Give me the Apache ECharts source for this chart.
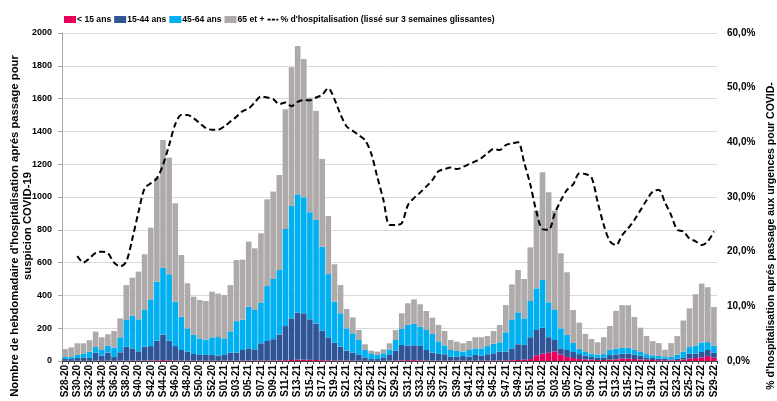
<!DOCTYPE html>
<html>
<head>
<meta charset="utf-8">
<script src="https://cdn.jsdelivr.net/npm/echarts@6/dist/echarts.min.js"></script>
<style>
  html, body { margin: 0; padding: 0; background: #fff; }
  #chart { width: 777px; height: 401px; }
</style>
</head>
<body>
<div id="chart"></div>
<script>
// semaines S28-20 .. S29-22
const weeks = []
for (let w = 28; w <= 53; w++) weeks.push('S' + String(w).padStart(2, '0') + '-20')
for (let w = 1; w <= 52; w++) weeks.push('S' + String(w).padStart(2, '0') + '-21')
for (let w = 1; w <= 29; w++) weeks.push('S' + String(w).padStart(2, '0') + '-22')

const moins15 = [1, 1, 1, 1, 1, 2, 1, 2, 1, 2, 2, 2, 2, 3, 3, 4, 5, 4, 3, 3, 2, 2, 2, 2, 2, 2,
  2, 2, 2, 2, 3, 3, 3, 3, 3, 4, 5, 6, 8, 8, 7, 6, 5, 4, 4, 3, 3, 2, 2, 1, 1, 1, 1, 2, 3, 4,
  5, 5, 4, 3, 3, 2, 2, 2, 2, 2, 2, 2, 2, 3, 3, 3, 4, 5, 6, 8, 12, 35,
  45, 50, 58, 40, 25, 18, 12, 10, 8, 6, 6, 8, 10, 15, 15, 12, 10, 8, 6, 5, 5, 4, 5, 8, 15, 18, 22, 30, 20, 25]
const age15_44 = [11, 11, 17, 21, 17, 49, 32, 49, 23, 51, 85, 75, 57, 84, 88, 120, 156, 120, 88, 64, 55, 41, 35, 35, 35, 31,
  35, 49, 49, 65, 74, 68, 105, 119, 130, 157, 208, 254, 287, 283, 247, 222, 180, 140, 108, 84, 60, 49, 35, 21, 11, 11, 21, 35, 60, 94,
  89, 91, 88, 64, 48, 41, 39, 24, 24, 28, 24, 35, 31, 38, 44, 54, 53, 72, 96, 90, 133, 154,
  158, 95, 70, 37, 42, 37, 30, 22, 17, 14, 16, 28, 30, 30, 30, 28, 22, 14, 12, 10, 9, 6, 10, 14, 30, 27, 33, 37, 30, 23]
const age45_64 = [12, 12, 19, 21, 39, 34, 34, 43, 57, 91, 163, 199, 195, 224, 285, 360, 408, 405, 271, 203, 142, 116, 101, 93, 107, 113,
  97, 130, 192, 185, 254, 240, 249, 335, 367, 394, 592, 685, 721, 707, 653, 632, 512, 386, 250, 204, 136, 118, 91, 45, 35, 25, 25, 34, 65, 97,
  126, 130, 117, 122, 114, 77, 54, 41, 35, 27, 41, 40, 44, 50, 58, 57, 118, 173, 195, 162, 221, 254,
  291, 213, 183, 122, 92, 55, 33, 23, 20, 18, 20, 32, 35, 35, 35, 30, 23, 20, 17, 16, 10, 15, 23, 35, 40, 50, 58, 48, 44]
const age65plus = [49, 59, 71, 65, 70, 94, 78, 69, 102, 116, 213, 232, 291, 340, 437, 634, 779, 711, 600, 376, 275, 233, 234, 236, 279, 265,
  268, 282, 373, 366, 397, 376, 422, 529, 533, 579, 730, 846, 905, 844, 699, 665, 535, 354, 228, 172, 118, 97, 61, 35, 16, 20, 24, 37, 61, 96,
  132, 150, 137, 116, 99, 100, 88, 61, 57, 51, 55, 68, 68, 61, 78, 106, 166, 217, 258, 240, 327, 474,
  657, 671, 606, 458, 382, 201, 159, 110, 89, 76, 103, 146, 231, 261, 260, 198, 148, 110, 86, 78, 45, 84, 114, 190, 236, 312, 359, 335, 235]
// % d'hospitalisation lissé sur 3 semaines
const tauxHospit = [null, null, 19.2, 18.0, 18.8, 19.8, 20.0, 19.7, 18.0, 17.3, 18.2, 22.4, 27.3, 31.6, 32.5, 33.4, 35.9, 39.5, 43.3, 45.0, 45.0, 44.4, 43.5, 42.6, 42.3, 42.3,
  42.9, 43.8, 44.7, 45.7, 46.2, 47.3, 48.4, 48.2, 47.9, 47.0, 47.3, 46.6, 47.4, 47.7, 47.7, 48.2, 48.7, 49.9, 47.9, 45.1, 42.9, 42.1, 41.3, 40.4, 38.0, 33.7, 29.5, 24.9, 24.9, 25.2,
  28.5, 29.8, 30.8, 31.9, 33.1, 34.7, 35.1, 35.4, 35.1, 35.5, 36.0, 36.5, 37.1, 38.0, 38.8, 38.6, 39.5, 39.8, 40.0, 36.3, 32.3, 27.3,
  24.1, 24.0, 27.0, 29.4, 31.3, 32.3, 34.3, 34.2, 33.6, 29.1, 24.9, 21.9, 21.2, 23.0, 24.3, 25.8, 27.6, 29.4, 31.0, 31.3, 29.0, 26.7, 24.0, 23.7, 22.4, 21.9, 21.2, 21.9, 23.7]

const police = '"Liberation Sans", Arial, sans-serif'
const tiret = 'path://M0,2.8h3.2v1.6h-3.2z M4.4,2.8h3.2v1.6h-3.2z M8.8,2.8h2v1.6h-2z M0,0h0.01v0.01h-0.01z M12,7h0.01v0.01h-0.01z'

let chart = echarts.init(document.getElementById('chart'))
chart.setOption({
  animation: false,
  grid: { left: 62, right: 60, top: 33, bottom: 40 },
  legend: {
    left: 64,
    top: 15,
    padding: 0,
    itemWidth: 12,
    itemHeight: 7,
    itemGap: 3,
    textStyle: { fontFamily: police, fontWeight: 'bold', fontSize: 8.6, color: '#000', padding: [0, 0, 0, -4] },
    data: [
      { name: '< 15 ans', icon: 'rect' },
      { name: '15-44 ans', icon: 'rect' },
      { name: '45-64 ans', icon: 'rect' },
      { name: '65 et +', icon: 'rect' },
      { name: "% d'hospitalisation (lissé sur 3 semaines glissantes)", icon: tiret, itemStyle: { color: '#000' } }
    ]
  },
  xAxis: {
    type: 'category',
    data: weeks,
    axisLine: { lineStyle: { color: '#404040', width: 1 } },
    axisTick: { show: true, interval: 0, length: 3, lineStyle: { color: '#404040' } },
    axisLabel: {
      interval: 1,
      rotate: 90,
      margin: 4,
      fontFamily: police,
      fontWeight: 'bold',
      fontSize: 10,
      color: '#000'
    }
  },
  yAxis: [
    {
      type: 'value',
      min: 0,
      max: 2000,
      interval: 200,
      axisLine: { show: true, lineStyle: { color: '#a6a6a6' } },
      axisTick: { show: true, length: 4, lineStyle: { color: '#a6a6a6' } },
      axisLabel: {
        margin: 10,
        fontFamily: police,
        fontWeight: 'bold',
        fontSize: 9,
        color: '#000',
        formatter: function (v) {
          return String(v)
        }
      },
      splitLine: { lineStyle: { color: '#d9d9d9', width: 1 } }
    },
    {
      type: 'value',
      min: 0,
      max: 60,
      interval: 10,
      position: 'right',
      axisLine: { show: false },
      axisTick: { show: false },
      splitLine: { show: false },
      axisLabel: {
        margin: 10,
        fontFamily: police,
        fontWeight: 'bold',
        fontSize: 10,
        color: '#000',
        formatter: function (v) {
          return v.toFixed(1).replace('.', ',') + '%'
        }
      }
    }
  ],
  graphic: [
    {
      type: 'text',
      x: 21,
      y: 226,
      rotation: Math.PI / 2,
      style: {
        text: "Nombre de hebdomadaire d'hospitalisation aprés passage pour\nsuspicion COVID-19",
        font: 'bold 11.3px ' + police,
        fill: '#000',
        align: 'center',
        verticalAlign: 'middle',
        textAlign: 'center',
        textVerticalAlign: 'middle',
        lineHeight: 13
      }
    },
    {
      type: 'text',
      x: 771,
      y: 236,
      rotation: Math.PI / 2,
      style: {
        text: "% d'hospitalisation aprés passage aux urgences pour COVID-",
        font: 'bold 10.5px ' + police,
        fill: '#000',
        align: 'center',
        verticalAlign: 'middle',
        textAlign: 'center',
        textVerticalAlign: 'middle'
      }
    }
  ],
  series: [
    { name: '< 15 ans', type: 'bar', stack: 'total', data: moins15, barCategoryGap: '8%', itemStyle: { color: '#e6005c' } },
    { name: '15-44 ans', type: 'bar', stack: 'total', data: age15_44, itemStyle: { color: '#2f5597' } },
    { name: '45-64 ans', type: 'bar', stack: 'total', data: age45_64, itemStyle: { color: '#00b0f0' } },
    { name: '65 et +', type: 'bar', stack: 'total', data: age65plus, itemStyle: { color: '#aeaaaa' } },
    {
      name: "% d'hospitalisation (lissé sur 3 semaines glissantes)",
      type: 'line',
      yAxisIndex: 1,
      data: tauxHospit,
      symbol: 'none',
      smooth: 0.3,
      z: 5,
      lineStyle: { color: '#000', width: 2, type: [6, 3.5] }
    }
  ]
})
</script>
</body>
</html>
